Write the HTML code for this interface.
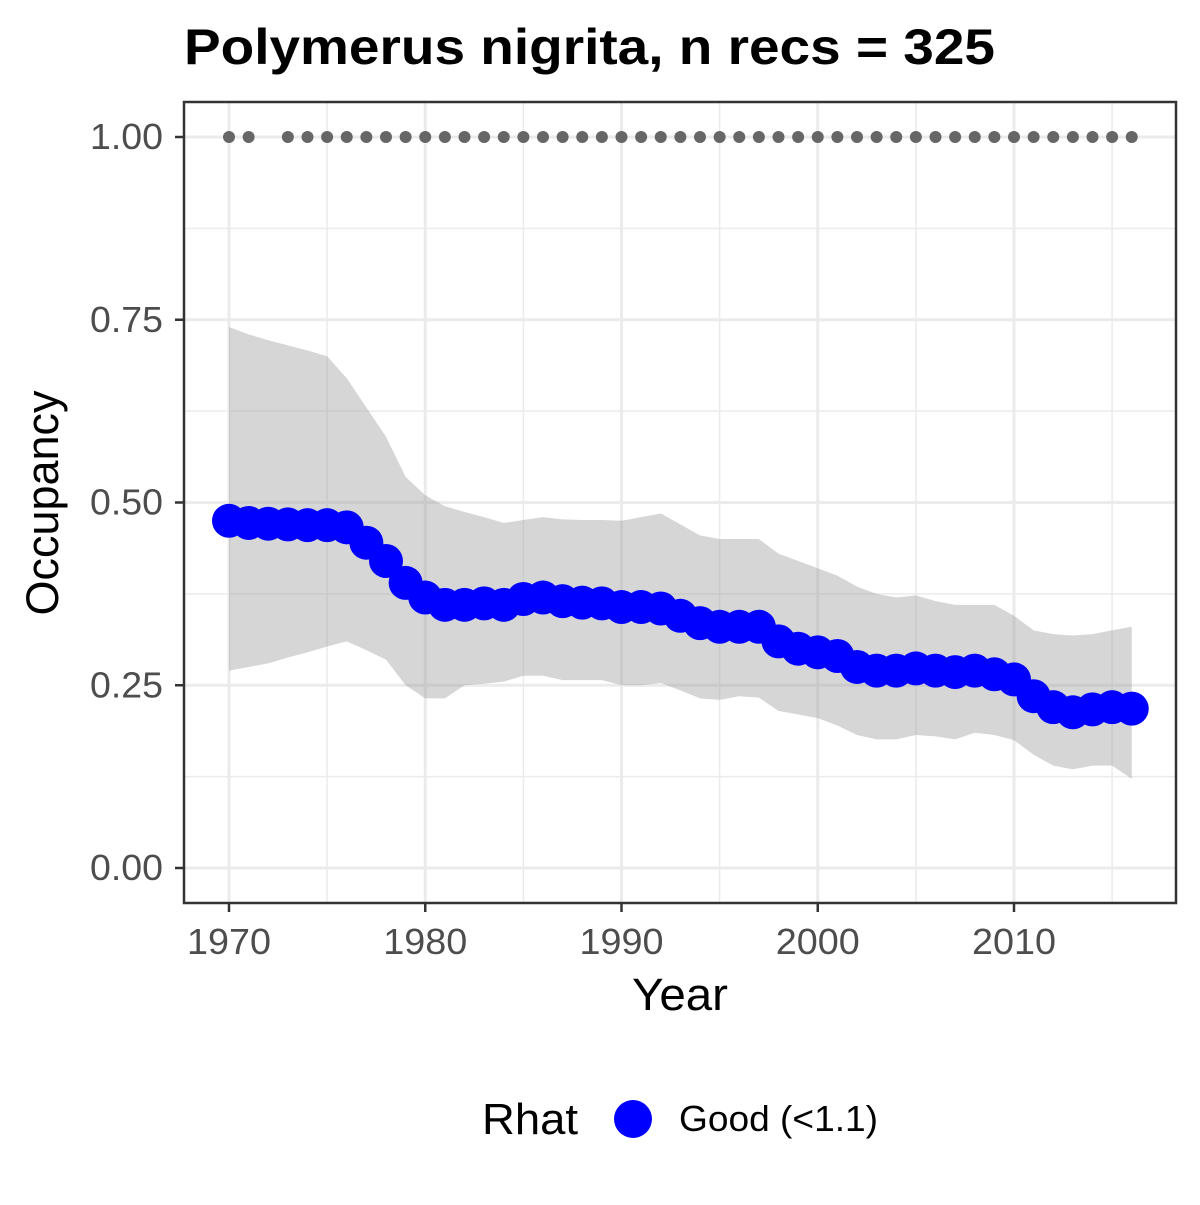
<!DOCTYPE html>
<html><head><meta charset="utf-8"><style>body{margin:0;background:#fff}svg text{font-family:"Liberation Sans",Arial,sans-serif}</style></head>
<body>
<svg id="chart" width="1200" height="1200" xmlns="http://www.w3.org/2000/svg">
<rect width="1200" height="1200" fill="#fff"/>
<text x="184" y="64" font-size="50" font-weight="bold" fill="#000" textLength="811" lengthAdjust="spacingAndGlyphs">Polymerus nigrita, n recs = 325</text>
<g id="grid"></g>
<g id="ribbon"></g>
<g id="dots"></g>
<g id="pts"></g>
<rect x="184" y="102" width="992" height="801" fill="none" stroke="#333" stroke-width="2.5"/>
<g id="axes"></g>
<text x="680" y="1010" font-size="45" text-anchor="middle" fill="#000" textLength="96" lengthAdjust="spacingAndGlyphs">Year</text>
<text transform="translate(58,503) rotate(-90)" font-size="45" text-anchor="middle" fill="#000" textLength="225" lengthAdjust="spacingAndGlyphs">Occupancy</text>
<g>
<text x="482" y="1134" font-size="44" fill="#000" textLength="96" lengthAdjust="spacingAndGlyphs">Rhat</text>
<circle cx="633" cy="1119" r="19" fill="#0000ff"/>
<text x="679" y="1131" font-size="36" fill="#000" textLength="199" lengthAdjust="spacingAndGlyphs">Good (&lt;1.1)</text>
</g>
</svg>
<script>
const years=[1970,1971,1972,1973,1974,1975,1976,1977,1978,1979,1980,1981,1982,1983,1984,1985,1986,1987,1988,1989,1990,1991,1992,1993,1994,1995,1996,1997,1998,1999,2000,2001,2002,2003,2004,2005,2006,2007,2008,2009,2010,2011,2012,2013,2014,2015,2016];
const occupancy=[0.475,0.472,0.471,0.470,0.469,0.469,0.466,0.445,0.42,0.39,0.37,0.36,0.36,0.362,0.36,0.368,0.37,0.365,0.363,0.362,0.357,0.357,0.355,0.345,0.335,0.33,0.33,0.33,0.31,0.30,0.295,0.29,0.275,0.27,0.27,0.273,0.27,0.268,0.27,0.265,0.258,0.235,0.22,0.213,0.217,0.22,0.218];
const upper=[0.74,0.73,0.722,0.715,0.708,0.70,0.67,0.63,0.59,0.535,0.51,0.495,0.487,0.48,0.472,0.476,0.48,0.477,0.476,0.476,0.475,0.48,0.485,0.47,0.455,0.45,0.45,0.45,0.43,0.42,0.41,0.40,0.385,0.375,0.37,0.373,0.365,0.36,0.36,0.36,0.345,0.325,0.32,0.318,0.32,0.325,0.33];
const lower=[0.27,0.275,0.28,0.288,0.295,0.303,0.31,0.298,0.285,0.25,0.232,0.232,0.25,0.252,0.255,0.263,0.263,0.257,0.257,0.257,0.25,0.25,0.253,0.243,0.232,0.23,0.235,0.233,0.215,0.21,0.205,0.195,0.182,0.176,0.176,0.182,0.18,0.176,0.185,0.182,0.175,0.155,0.14,0.135,0.14,0.14,0.122];
const rhatYears=[1970,1971,1973,1974,1975,1976,1977,1978,1979,1980,1981,1982,1983,1984,1985,1986,1987,1988,1989,1990,1991,1992,1993,1994,1995,1996,1997,1998,1999,2000,2001,2002,2003,2004,2005,2006,2007,2008,2009,2010,2011,2012,2013,2014,2015,2016];
const xTicks=[1970,1980,1990,2000,2010];
const yTicks=[0,0.25,0.5,0.75,1];
const yTickLabels=["0.00","0.25","0.50","0.75","1.00"];
const NS="http://www.w3.org/2000/svg";
const X=v=>229+(v-1970)*19.625;
const Y=v=>868-v*731;
function mk(t,p,a){const e=document.createElementNS(NS,t);for(const k in a)e.setAttribute(k,a[k]);p.appendChild(e);return e;}
const grid=document.getElementById('grid'),axes=document.getElementById('axes');
for(let y=1965;y<=2020;y+=5){const x=X(y);if(x<185||x>1175)continue;
 const l=mk('line',grid,{x1:x,x2:x,y1:102,y2:903,stroke:'#ebebeb','stroke-width':y%10?1.5:3});
 
 }
for(let v=-0.125;v<=1.1;v+=0.125){const y=Y(v);if(y<103||y>902)continue;
 const l=mk('line',grid,{x1:184,x2:1176,y1:y,y2:y,stroke:'#ebebeb','stroke-width':Math.abs(v*4-Math.round(v*4))<1e-6?3:1.5});
 
 }
let d='M'+years.map((y,i)=>X(y)+','+Y(upper[i])).join('L');
for(let i=years.length-1;i>=0;i--)d+='L'+X(years[i])+','+Y(lower[i]);
const rib=mk('path',document.getElementById('ribbon'),{d:d+'Z',fill:'#999','fill-opacity':0.4});


rhatYears.forEach(y=>{const c=mk('circle',document.getElementById('dots'),{cx:X(y),cy:Y(1),r:6,fill:'#666'});
 
 });
years.forEach((y,i)=>{const c=mk('circle',document.getElementById('pts'),{cx:X(y),cy:Y(occupancy[i]),r:17,fill:'#0000ff'});
 
 });
xTicks.forEach(t=>{const x=X(t);mk('line',axes,{x1:x,x2:x,y1:903,y2:912,stroke:'#333','stroke-width':2.5});
 const tx=mk('text',axes,{x:x,y:954,'font-size':36,'text-anchor':'middle',fill:'#4d4d4d',textLength:84,lengthAdjust:'spacingAndGlyphs'});tx.textContent=t;
 
 });
yTicks.forEach((t,i)=>{const y=Y(t);mk('line',axes,{x1:175,x2:184,y1:y,y2:y,stroke:'#333','stroke-width':2.5});
 const tx=mk('text',axes,{x:163,y:y+12,'font-size':36,'text-anchor':'end',fill:'#4d4d4d',textLength:73,lengthAdjust:'spacingAndGlyphs'});tx.textContent=yTickLabels[i];
 
 });
</script>
</body></html>
